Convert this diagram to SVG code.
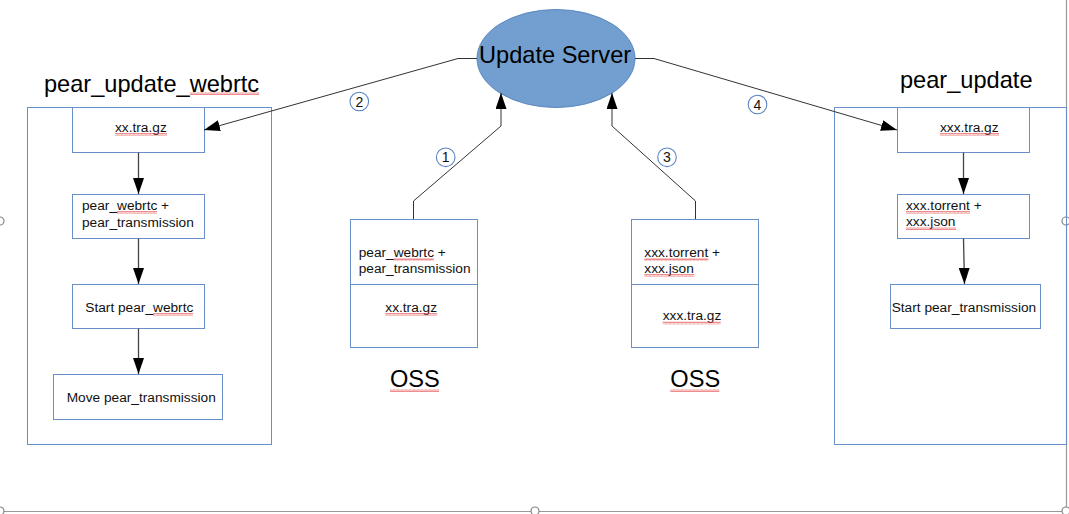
<svg xmlns="http://www.w3.org/2000/svg" width="1069" height="514" viewBox="0 0 1069 514">
<defs>
<style>
.box{fill:#fff;stroke:#6a8fc8;stroke-width:1}
.cont{fill:none;stroke:#6a8fc8;stroke-width:1}
.t{font-family:"Liberation Sans",Arial,sans-serif;font-size:13.7px;fill:#111}
.big{font-family:"Liberation Sans",Arial,sans-serif;font-size:23.6px;fill:#000}
.num{font-family:"Liberation Sans",Arial,sans-serif;font-size:14px;fill:#111;text-anchor:middle}
.conn{fill:none;stroke:#333;stroke-width:1}
.flow{fill:none;stroke:#444;stroke-width:1.3}
.badge{fill:#fff;stroke:#5b84c4;stroke-width:1.1}
.frame{fill:none;stroke:#999;stroke-width:1.2}
.handle{fill:#fff;stroke:#888;stroke-width:1.2}
.sq{fill:url(#squig)}
</style>
<marker id="arr" viewBox="0 0 16 11" refX="16" refY="5.5" markerWidth="16" markerHeight="11" markerUnits="userSpaceOnUse" orient="auto">
<path d="M0,0 L16,5.5 L0,11 z" fill="#000"/>
</marker>
<pattern id="squig" width="4" height="3" patternUnits="userSpaceOnUse">
<path d="M0,2.6 L1,0.4 L2,2.6 L3,0.4 L4,2.6" fill="none" stroke="#e04040" stroke-width="0.6"/>
</pattern>
</defs>

<!-- selection frame (screenshot artefact) -->
<g id="frame">
<line class="frame" x1="0" y1="511.5" x2="1066" y2="511.5"/>
<line class="frame" x1="1066.5" y1="0" x2="1066.5" y2="511" stroke="#ccc"/>
<circle class="handle" cx="0" cy="221" r="4"/>
<circle class="handle" cx="1066" cy="221" r="4"/>
<circle class="handle" cx="535" cy="511" r="4"/>
<circle class="handle" cx="0" cy="511" r="4"/>
<circle class="handle" cx="1066" cy="511" r="4"/>
</g>

<!-- left container -->
<g id="pear_update_webrtc">
<rect class="cont" x="27.5" y="107.5" width="244" height="337"/>
<text class="big" x="44" y="92">pear_update_webrtc</text>
<rect class="sq" x="190" y="92" width="69" height="3"/>
</g>
<g id="l_xx_tra_gz">
<rect class="box" x="72.5" y="107.5" width="132" height="45"/>
<text class="t" x="115" y="131.5">xx.tra.gz</text>
<rect class="sq" x="115" y="133" width="52" height="3"/>
</g>
<g id="l_webrtc_trans">
<rect class="box" x="72.5" y="194.5" width="132" height="44"/>
<text class="t" x="82" y="210">pear_webrtc +</text>
<text class="t" x="82" y="226.5">pear_transmission</text>
<rect class="sq" x="117" y="211" width="40" height="3"/>
</g>
<g id="l_start_webrtc">
<rect class="box" x="72.5" y="284.5" width="132" height="44"/>
<text class="t" x="85.3" y="311.7">Start pear_webrtc</text>
<rect class="sq" x="153" y="313" width="40" height="3"/>
</g>
<g id="l_move_trans">
<rect class="box" x="53.5" y="374.5" width="169" height="45"/>
<text class="t" x="66.7" y="401.7">Move pear_transmission</text>
</g>

<!-- update server -->
<g id="update_server">
<ellipse cx="556" cy="58.5" rx="79" ry="49" fill="#729fcf" stroke="#5b87c0" stroke-width="1"/>
<text class="big" x="479" y="62.5">Update Server</text>
</g>

<!-- OSS 1 -->
<g id="oss1">
<rect class="box" x="350.5" y="219.5" width="127" height="128"/>
<line class="box" x1="350.5" y1="284.5" x2="477.5" y2="284.5" stroke="#444"/>
<text class="t" x="358.7" y="256.7">pear_webrtc +</text>
<text class="t" x="358.7" y="272.7">pear_transmission</text>
<rect class="sq" x="393.7" y="258" width="40" height="3"/>
<text class="t" x="385.3" y="311.7">xx.tra.gz</text>
<rect class="sq" x="385.3" y="313" width="52" height="3"/>
<text class="big" x="390" y="387">OSS</text>
<rect class="sq" x="390" y="389" width="49" height="3"/>
</g>

<!-- OSS 2 -->
<g id="oss2">
<rect class="box" x="631.5" y="219.5" width="127" height="128"/>
<line class="box" x1="631.5" y1="284.5" x2="758.5" y2="284.5" stroke="#444"/>
<text class="t" x="644.3" y="256.7">xxx.torrent +</text>
<text class="t" x="644.3" y="272.7">xxx.json</text>
<rect class="sq" x="644.3" y="258" width="64" height="3"/>
<rect class="sq" x="644.3" y="274" width="50" height="3"/>
<text class="t" x="662.7" y="320">xxx.tra.gz</text>
<rect class="sq" x="662.7" y="321.5" width="58" height="3"/>
<text class="big" x="670.3" y="387">OSS</text>
<rect class="sq" x="670.3" y="389" width="49" height="3"/>
</g>

<!-- right container -->
<g id="pear_update">
<rect class="cont" x="834.5" y="107.5" width="232" height="337"/>
<text class="big" x="900" y="88">pear_update</text>
</g>
<g id="r_xxx_tra_gz">
<rect class="box" x="897.5" y="107.5" width="132" height="45"/>
<text class="t" x="940" y="131.5">xxx.tra.gz</text>
<rect class="sq" x="940" y="133" width="59" height="3"/>
</g>
<g id="r_torrent_json">
<rect class="box" x="897.5" y="194.5" width="132" height="44"/>
<text class="t" x="906" y="210">xxx.torrent +</text>
<text class="t" x="906" y="226">xxx.json</text>
<rect class="sq" x="906" y="211" width="64" height="3"/>
<rect class="sq" x="906" y="227" width="50" height="3"/>
</g>
<g id="r_start_trans">
<rect class="box" x="890.5" y="284.5" width="150" height="44"/>
<text class="t" x="891.7" y="311.7">Start pear_transmission</text>
</g>

<!-- connectors -->
<g id="connectors">
<polyline class="conn" points="477,58.5 458,58.5 204,130" marker-end="url(#arr)"/>
<polyline class="conn" points="635,58.5 654,58.5 897,130" marker-end="url(#arr)"/>
<polyline class="conn" points="413.5,219 413.5,201 501,126 501,93" marker-end="url(#arr)"/>
<polyline class="conn" points="695.5,219 695.5,201 612,126 612,93" marker-end="url(#arr)"/>
<line class="flow" x1="138.5" y1="152.5" x2="138.5" y2="194" marker-end="url(#arr)"/>
<line class="flow" x1="138.5" y1="238.5" x2="138.5" y2="284" marker-end="url(#arr)"/>
<line class="flow" x1="138.5" y1="328.5" x2="138.5" y2="374" marker-end="url(#arr)"/>
<line class="flow" x1="963.5" y1="152.5" x2="963.5" y2="194" marker-end="url(#arr)"/>
<line class="flow" x1="963.5" y1="238.5" x2="964.5" y2="284" marker-end="url(#arr)"/>
</g>

<!-- step badges -->
<g id="badges">
<circle class="badge" cx="445.7" cy="157.3" r="9.3"/>
<text class="num" x="445.7" y="162.3">1</text>
<circle class="badge" cx="359.3" cy="101.5" r="9.3"/>
<text class="num" x="359.3" y="106.5">2</text>
<circle class="badge" cx="667" cy="157.3" r="9.3"/>
<text class="num" x="667" y="162.3">3</text>
<circle class="badge" cx="757.5" cy="104.5" r="9.3"/>
<text class="num" x="757.5" y="109.5">4</text>
</g>
</svg>
